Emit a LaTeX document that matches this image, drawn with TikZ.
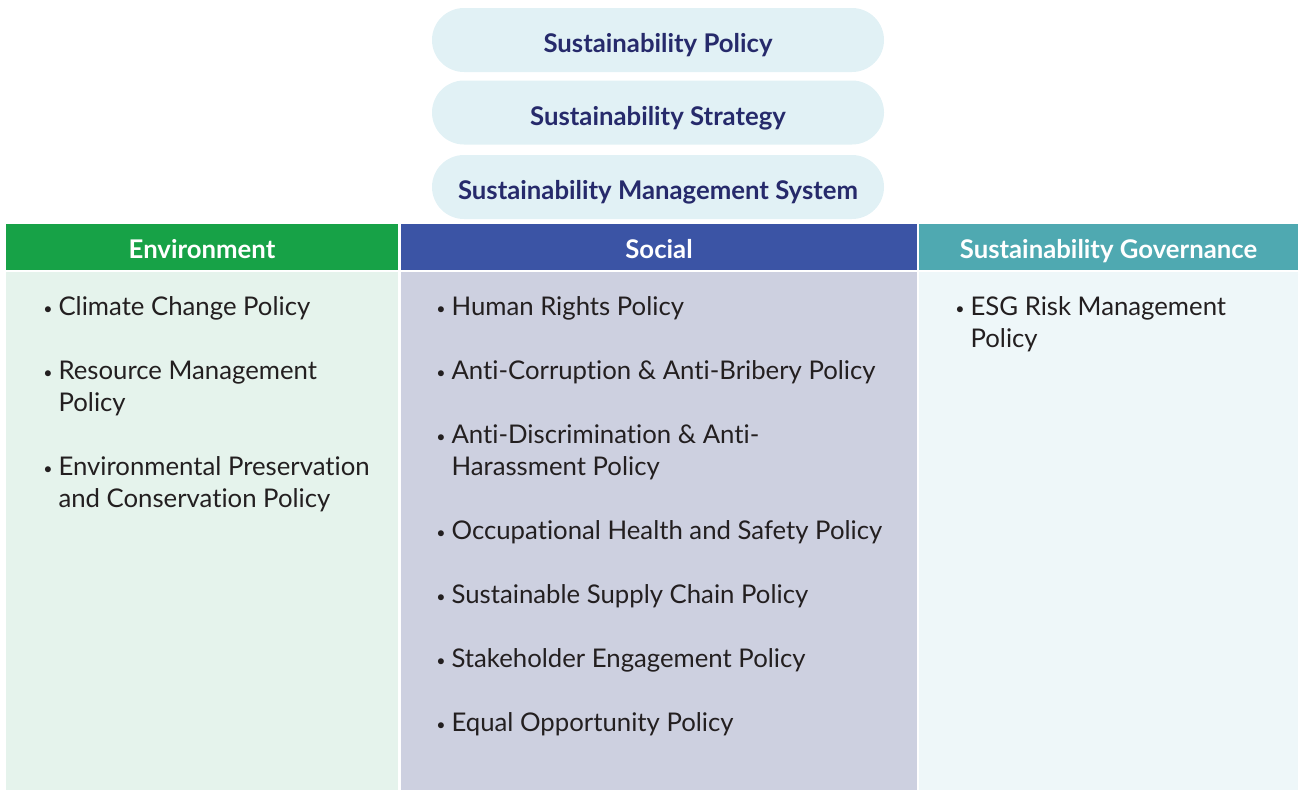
\documentclass[tikz,border=0pt]{standalone}
\usepackage{fontspec}
\setmainfont{Lato}[Ligatures=NoCommon]
\usetikzlibrary{positioning}

\definecolor{pillfill}{HTML}{E1F1F5}
\definecolor{navy}{HTML}{262A6B}
\definecolor{envgreen}{HTML}{17A247}
\definecolor{socblue}{HTML}{3B54A5}
\definecolor{govteal}{HTML}{4FA9B1}
\definecolor{envbody}{HTML}{E5F3EC}
\definecolor{socbody}{HTML}{CDD0E0}
\definecolor{govbody}{HTML}{EEF7F9}
\definecolor{itemtext}{HTML}{231F20}

\newcommand{\bul}{\raisebox{0.05ex}{\fontsize{12}{12}\selectfont\textbullet}\hspace{4.5pt}}
\newcommand{\ind}{\hphantom{\bul}}

\tikzset{
  pill/.style={fill=pillfill, rounded corners=24pt, minimum width=339pt,
    minimum height=48pt, inner sep=0pt, text=navy, text height=19pt, text depth=0pt,
    font=\bfseries\fontsize{19.3}{22}\selectfont},
  head/.style={minimum height=34.5pt, inner sep=0pt, text=white,
    text height=17pt, text depth=0pt,
    font=\bfseries\fontsize{19.3}{22}\selectfont},
  body/.style={minimum height=388.5pt, inner sep=0pt},
  item/.style={anchor=base west, inner sep=0pt, align=left, text=itemtext,
    font=\fontsize{19.3}{24}\selectfont}
}

\begin{document}
\begin{tikzpicture}[x=0.75pt,y=-0.75pt]
  \useasboundingbox (0,0) rectangle (1298,790);

  % top pills
  \node[pill] (policy) at (658,40) {Sustainability Policy};
  \node[pill] (strategy) at (658,112.5) {Sustainability Strategy};
  \node[pill] (system) at (658,187) {Sustainability Management System};

  % column headers
  \node[head, fill=envgreen, minimum width=294pt] (envhead) at (202,247) {Environment};
  \node[head, fill=socblue, minimum width=387pt] (sochead) at (659,247) {Social};
  \node[head, fill=govteal, minimum width=284.25pt] (govhead) at (1108.5,247) {Sustainability Governance};

  % column bodies
  \node[body, fill=envbody, minimum width=294pt] (envbody) at (202,531) {};
  \node[body, fill=socbody, minimum width=387pt] (socbody) at (659,531) {};
  \node[body, fill=govbody, minimum width=284.25pt] (govbody) at (1108.5,531) {};

  % environment items (multi-line: y is the last baseline)
  \node[item] (env1) at (43,315) {\bul Climate Change Policy};
  \node[item] (env2) at (43,411) {\bul Resource Management\\\ind Policy};
  \node[item] (env3) at (43,507) {\bul Environmental Preservation\\\ind and Conservation Policy};

  % social items
  \node[item] (soc1) at (436,315) {\bul Human Rights Policy};
  \node[item] (soc2) at (436,379) {\bul Anti-Corruption \& Anti-Bribery Policy};
  \node[item] (soc3) at (436,475) {\bul Anti-Discrimination \& Anti-\\\ind Harassment Policy};
  \node[item] (soc4) at (436,539) {\bul Occupational Health and Safety Policy};
  \node[item] (soc5) at (436,603) {\bul Sustainable Supply Chain Policy};
  \node[item] (soc6) at (436,667) {\bul Stakeholder Engagement Policy};
  \node[item] (soc7) at (436,731) {\bul Equal Opportunity Policy};

  % governance items
  \node[item] (gov1) at (955,347) {\bul ESG Risk Management\\\ind Policy};
\end{tikzpicture}
\end{document}
